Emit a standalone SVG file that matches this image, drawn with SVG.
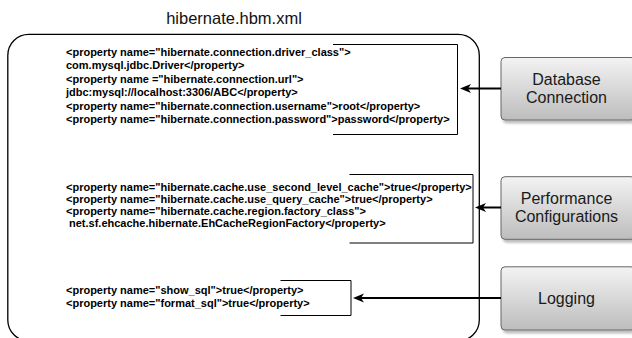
<svg xmlns="http://www.w3.org/2000/svg" width="632" height="338" viewBox="0 0 632 338">
<style>
.code{font-family:"Liberation Sans",Arial,sans-serif;font-size:11px;font-weight:bold;fill:#000}
.title{font-family:"Liberation Sans",Arial,sans-serif;font-size:16.5px;fill:#111}
.lbl{font-family:"Liberation Sans",Arial,sans-serif;font-size:16px;fill:#1a1a1a;text-anchor:middle}
.box{fill:url(#g);stroke:#666;stroke-width:1;filter:url(#sh)}
.br{fill:none;stroke:#000;stroke-width:1}
.arr{fill:none;stroke:#000;stroke-width:2;marker-end:url(#ah)}
</style>
<defs>
<linearGradient id="g" x1="0" y1="0" x2="0" y2="1">
<stop offset="0" stop-color="#f3f3f3"/>
<stop offset="1" stop-color="#bdbdbd"/>
</linearGradient>
<filter id="sh" x="-10%" y="-10%" width="130%" height="140%">
<feDropShadow dx="2" dy="3" stdDeviation="1" flood-color="#000" flood-opacity="0.25"/>
</filter>
<marker id="ah" markerUnits="userSpaceOnUse" markerWidth="14" markerHeight="12" viewBox="0 -6 14 12" refX="4" refY="0" orient="auto">
<path d="M0,-4.5 L11,0 L0,4.5 L3,0 z" fill="#000"/>
</marker>
</defs>
<rect width="632" height="338" fill="#fff"/>
<g id="file">
<text class="title" x="234" y="24" text-anchor="middle">hibernate.hbm.xml</text>
<rect x="7.8" y="34.4" width="471.5" height="306.5" rx="21" ry="21" fill="none" stroke="#000" stroke-width="1.3"/>
</g>
<g id="db-props">
<path class="br" d="M333,44.5 H457.5 V134.5 H333"/>
<text class="code" x="66" y="55.5">&lt;property name="hibernate.connection.driver_class"&gt;</text>
<text class="code" x="66" y="69">com.mysql.jdbc.Driver&lt;/property&gt;</text>
<text class="code" x="66" y="82.5">&lt;property name ="hibernate.connection.url"&gt;</text>
<text class="code" x="66" y="96">jdbc:mysql://localhost:3306/ABC&lt;/property&gt;</text>
<text class="code" x="66" y="109.5">&lt;property name="hibernate.connection.username"&gt;root&lt;/property&gt;</text>
<text class="code" x="66" y="123">&lt;property name="hibernate.connection.password"&gt;password&lt;/property&gt;</text>
</g>
<g id="perf-props">
<path class="br" d="M349.5,174.5 H473 V243 H349.5"/>
<text class="code" x="66" y="191.2">&lt;property name="hibernate.cache.use_second_level_cache"&gt;true&lt;/property&gt;</text>
<text class="code" x="66" y="203.1">&lt;property name="hibernate.cache.use_query_cache"&gt;true&lt;/property&gt;</text>
<text class="code" x="66" y="215">&lt;property name="hibernate.cache.region.factory_class"&gt;</text>
<text class="code" x="69" y="226.9">net.sf.ehcache.hibernate.EhCacheRegionFactory&lt;/property&gt;</text>
</g>
<g id="log-props">
<path class="br" d="M280.5,280.5 H351 V315.5 H280.5"/>
<text class="code" x="66" y="294.2">&lt;property name="show_sql"&gt;true&lt;/property&gt;</text>
<text class="code" x="66" y="306.8">&lt;property name="format_sql"&gt;true&lt;/property&gt;</text>
</g>
<g id="database-connection">
<rect class="box" x="501" y="57.5" width="134" height="62.5" rx="4"/>
<text class="lbl" x="566.5" y="85">Database</text>
<text class="lbl" x="566.5" y="103.3">Connection</text>
</g>
<g id="performance-configurations">
<rect class="box" x="501" y="176.7" width="134" height="62.6" rx="4"/>
<text class="lbl" x="566.5" y="203.6">Performance</text>
<text class="lbl" x="566.5" y="221.9">Configurations</text>
</g>
<g id="logging">
<rect class="box" x="501" y="266.8" width="134" height="63.2" rx="4"/>
<text class="lbl" x="566.5" y="303.5">Logging</text>
</g>
<g id="connectors">
<line class="arr" x1="501" y1="88.5" x2="467" y2="88.5"/>
<line class="arr" x1="501" y1="207.5" x2="482" y2="207.5"/>
<line class="arr" x1="501" y1="298" x2="360" y2="298"/>
</g>
</svg>
